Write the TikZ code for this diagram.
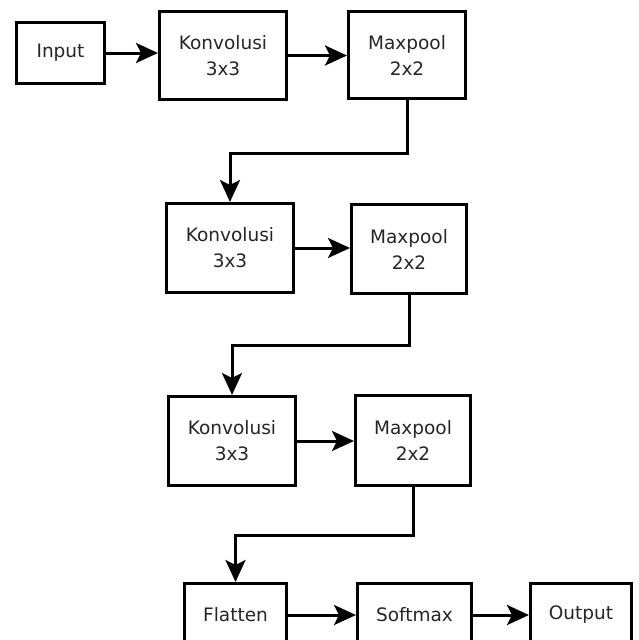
\documentclass[tikz,border=0pt]{standalone}
\usepackage{fontspec}
\setmainfont{DejaVu Sans}
\usetikzlibrary{arrows.meta}
\begin{document}
\begin{tikzpicture}[x=1pt,y=-1pt,
  box/.style={draw=black, line width=3pt, fill=white, inner sep=0pt, align=center,
    text=black!85, font=\fontsize{18.5}{26}\selectfont},
  conn/.style={line width=3pt, -{Stealth[length=22pt,width=20pt,inset=5pt]}}]
\useasboundingbox (0,0) rectangle (639,640);
% row 1
\node[box, minimum width=88pt, minimum height=61pt] (in) at (60.5,53) {Input};
\node[box, minimum width=127pt, minimum height=88pt] (k1) at (223,55.5) {Konvolusi\\3x3};
\node[box, minimum width=117pt, minimum height=87pt] (m1) at (407,55) {Maxpool\\2x2};
% row 2
\node[box, minimum width=127pt, minimum height=89pt] (k2) at (230,248) {Konvolusi\\3x3};
\node[box, minimum width=115pt, minimum height=89pt] (m2) at (409,249) {Maxpool\\2x2};
% row 3
\node[box, minimum width=127pt, minimum height=89pt] (k3) at (232,441) {Konvolusi\\3x3};
\node[box, minimum width=115pt, minimum height=90pt] (m3) at (413,440.5) {Maxpool\\2x2};
% row 4
\node[box, minimum width=102pt, minimum height=63pt] (fl) at (235.5,615) {Flatten};
\node[box, minimum width=114pt, minimum height=63pt] (sm) at (414.5,615) {Softmax};
\node[box, minimum width=101pt, minimum height=63pt] (out) at (581,615) {Output};
% connectors
\draw[conn] (in.east) -- (in.east -| k1.west);
\draw[conn] (k1.east) -- (k1.east -| m1.west);
\draw[conn] (m1.south) -- ++(0,53) -| (k2.north);
\draw[conn] (k2.east) -- (k2.east -| m2.west);
\draw[conn] (m2.south) -- ++(0,50.5) -| (k3.north);
\draw[conn] (k3.east) -- (k3.east -| m3.west);
\draw[conn] (m3.south) -- ++(0,48.5) -| (fl.north);
\draw[conn] (fl.east) -- (sm.west);
\draw[conn] (sm.east) -- (out.west);
\end{tikzpicture}
\end{document}
